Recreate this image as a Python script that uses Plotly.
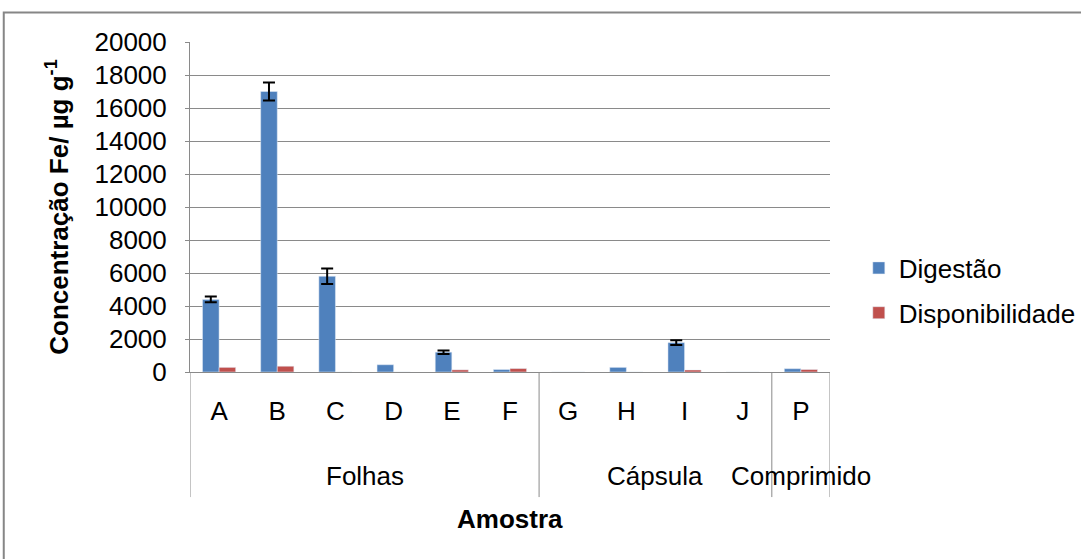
import numpy as np
import plotly.graph_objects as go

# Sample codes and the product type each belongs to
amostras = ["A", "B", "C", "D", "E", "F", "G", "H", "I", "J", "P"]
tipos = ["Folhas"] * 6 + ["Cápsula"] * 4 + ["Comprimido"]

# Fe concentration (µg g-1)
digestao = [4400, 17000, 5800, 440, 1200, 150, 0, 280, 1780, 0, 200]
digestao_erro = [170, 540, 470, np.nan, 110, np.nan, np.nan, np.nan, 150, np.nan, np.nan]
disponibilidade = [280, 350, 0, 0, 130, 210, 0, 0, 120, 0, 150]

y_ticks = [0, 2000, 4000, 6000, 8000, 10000, 12000, 14000, 16000, 18000, 20000]

FONT = "Liberation Sans, Arial, sans-serif"
FS = 26
GRID = "#8a8a8a"
n = len(amostras)

fig = go.Figure()
fig.add_trace(go.Bar(
    name="Digestão", x=amostras, y=digestao,
    marker=dict(color="#4F81BD"),
    error_y=dict(type="data", array=np.array(digestao_erro, dtype=float),
                 color="#000000", thickness=2, width=6),
    legendgroup="a",
))
fig.add_trace(go.Bar(
    name="Disponibilidade", x=amostras, y=disponibilidade,
    marker=dict(color="#C0504D"),
    legendgroup="b",
))

fig.update_layout(
    width=1081, height=559,
    margin=dict(l=190, r=251, t=42, b=187, autoexpand=False),
    paper_bgcolor="white", plot_bgcolor="white",
    barmode="group", bargap=0.43, bargroupgap=0,
    font=dict(family=FONT, size=FS, color="#000000"),
    legend=dict(x=1.045, y=0.247, xanchor="left", yanchor="middle",
                font=dict(size=FS), tracegroupgap=8,
                bgcolor="rgba(0,0,0,0)"),
    showlegend=True,
)

fig.update_yaxes(
    range=[0, 20000], tickvals=y_ticks, ticktext=[str(v) for v in y_ticks],
    showgrid=True, gridcolor=GRID, gridwidth=1,
    showline=True, linecolor=GRID, linewidth=1,
    zeroline=False, ticks="outside", ticklen=4, tickcolor=GRID,
    ticklabelstandoff=13,
    title=dict(text="<b>Concentração Fe/ µg g<sup>-1</sup></b>", standoff=18,
               font=dict(size=FS)),
)
fig.update_xaxes(
    type="category", categoryorder="array", categoryarray=amostras,
    range=[-0.5, n - 0.5],
    showline=True, linecolor=GRID, linewidth=1,
    ticks="", showgrid=False, ticklabelstandoff=16,
)

# Group the samples by product type: divider lines and a centred label per group
bounds = [i for i in range(1, n) if tipos[i] != tipos[i - 1]]
starts = [0] + bounds
ends = bounds + [n]
for b in [0] + bounds + [n]:
    fig.add_shape(type="line", xref="x", yref="paper",
                  x0=b - 0.5, x1=b - 0.5, y0=0, y1=-0.379,
                  line=dict(color=GRID, width=1))
for s, e in zip(starts, ends):
    fig.add_annotation(xref="x", yref="paper", x=(s + e - 1) / 2, y=-0.315,
                       text=tipos[s], showarrow=False, yanchor="middle",
                       font=dict(size=FS))

# Axis title for the sample axis
fig.add_annotation(xref="paper", yref="paper", x=0.5, y=-0.445,
                   text="<b>Amostra</b>", showarrow=False, yanchor="middle",
                   font=dict(size=FS))

# Outer chart frame
fig.add_shape(type="rect", xref="paper", yref="paper",
              x0=-0.291, y0=-0.7, x1=1.6, y1=1.0894,
              line=dict(color="#868686", width=2), fillcolor="rgba(0,0,0,0)",
              layer="below")

fig.write_html("out.html")
